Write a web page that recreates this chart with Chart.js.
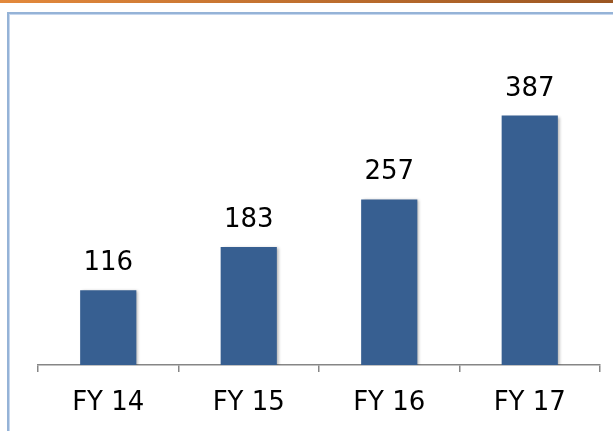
<!DOCTYPE html>
<html>
<head>
<meta charset="utf-8">
<script src="https://cdn.jsdelivr.net/npm/chart.js@4/dist/chart.umd.min.js"></script>
<style>
  html, body { margin: 0; padding: 0; background: #fff; }
  #wrap { position: relative; width: 613px; height: 431px; overflow: hidden; }
  #topline { position: absolute; left: 0; top: 0; width: 613px; height: 3px;
    background: linear-gradient(to right, #e3893c, #b86a2c 60%, #9b5622); }
  #frame { position: absolute; left: 7px; top: 12px; width: 620px; height: 430px;
    border-left: 2px solid #95b3d7; border-top: 2px solid #95b3d7;
    box-shadow: inset 1px 1px 0 #c6d7ee; }
  canvas { position: absolute; left: 0; top: 0; }
</style>
</head>
<body>
<div id="wrap">
  <div id="topline"></div>
  <div id="frame"></div>
  <canvas id="mycanvas" width="613" height="431"></canvas>
</div>
<script>
var kategorie = ['FY 14', 'FY 15', 'FY 16', 'FY 17'];
var wartosci = [116, 183, 257, 387];

var etykiety = {
  id: 'etykiety',
  beforeDatasetsDraw: function(chart) {
    var ctx = chart.ctx;
    ctx.save();
    ctx.shadowColor = 'rgba(0, 0, 0, 0.3)';
    ctx.shadowOffsetX = 2;
    ctx.shadowOffsetY = 1;
    ctx.shadowBlur = 3;
  },
  afterDatasetsDraw: function(chart) {
    var ctx = chart.ctx;
    ctx.restore();
    ctx.save();
    ctx.font = '26px "DejaVu Sans"';
    ctx.fillStyle = '#000';
    ctx.textAlign = 'center';
    ctx.textBaseline = 'alphabetic';
    chart.getDatasetMeta(0).data.forEach(function(bar, i) {
      ctx.fillText(String(wartosci[i]), bar.x, bar.y - 20);
    });
    ctx.restore();
  }
};

var chartdata = {
  labels: kategorie,
  datasets: [
    {
      label: 'Wartość',
      backgroundColor: '#375f91',
      borderWidth: 0,
      categoryPercentage: 1,
      barPercentage: 0.4,
      data: wartosci
    }
  ]
};

var ctx = document.getElementById('mycanvas');
var barGraph = new Chart(ctx, {
  type: 'bar',
  data: chartdata,
  plugins: [etykiety],
  options: {
    responsive: false,
    animation: false,
    layout: { padding: { top: 75, left: 38, right: 13, bottom: 0 } },
    plugins: { legend: { display: false }, tooltip: { enabled: false } },
    scales: {
      x: {
        afterFit: function(scale) { scale.height = 66; },
        border: { display: true, color: '#868686', width: 1.5 },
        grid: { display: true, drawOnChartArea: false, drawTicks: true, tickLength: 7, color: '#868686', lineWidth: 1.5, offset: true },
        ticks: { color: '#000', font: { family: 'DejaVu Sans', size: 26 }, padding: 16 }
      },
      y: {
        display: false,
        min: 0,
        max: 450
      }
    }
  }
});
</script>
</body>
</html>
